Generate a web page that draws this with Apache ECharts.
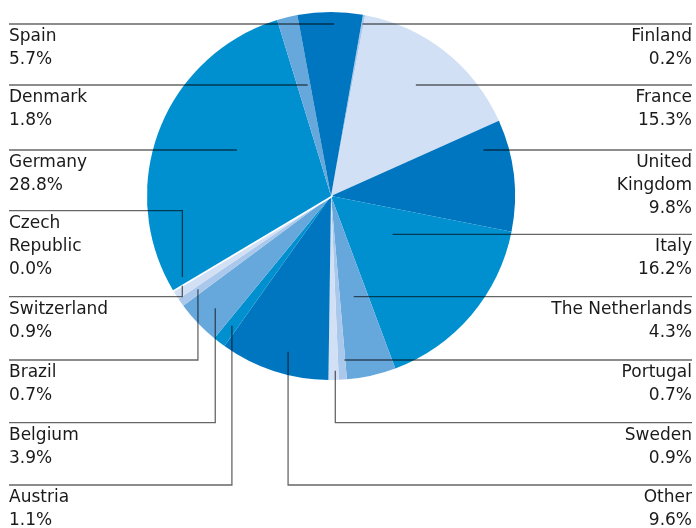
<!DOCTYPE html>
<html><head><meta charset="utf-8">
<script src="https://cdn.jsdelivr.net/npm/echarts@6/dist/echarts.min.js"></script>
<style>html,body{margin:0;padding:0;background:#fff}#c{width:696px;height:528px}</style>
</head><body><div id="c"></div>
<script>
// ---- data ----
const categories = ['Finland','France','United\nKingdom','Italy','The Netherlands','Portugal','Sweden','Other','Austria','Belgium','Brazil','Switzerland','Czech\nRepublic','Germany','Denmark','Spain'];
const shares = [0.2,15.3,9.8,16.2,4.3,0.7,0.9,9.6,1.1,3.9,0.7,0.9,0.0,28.8,1.8,5.7];

// ---- styles ----
const sliceColors = ['#a9c8eb','#d1e0f5','#0076c0','#0090cf','#67a8dc','#a9c8eb','#d1e0f5','#0076c0','#0090cf','#67a8dc','#a9c8eb','#d1e0f5','#ffffff','#0090cf','#67a8dc','#0076c0'];

// ---- layout ----
const CX = 331, CY = 196, R = 184, START = 80;
const side    = ['r','r','r','r','r','r','r','r','l','l','l','l','l','l','l','l'];
const rowY    = [24,85,150,234.3,296.7,360,422.7,485,485,422.7,360,296.7,210.7,150,85,24];
const elbow   = [0,0,0,0,0,0,1,1,1,1,1,1,1,0,0,0];
const angTweak= [0,-0.9,-10.3,-8.5,0,-1,-0.6,-2.7,0,-0.5,0.3,1.3,2.2,5,1.9,1.3];
const radFrac = [0,0,0,0,0,0,0.95,0.878,0.887,0.876,0.883,0.944,0.92,0,0,0];
const LEFT_X = 9, RIGHT_X = 692;

const total = shares.reduce((a,b)=>a+b,0);
const cum = [];
shares.reduce((acc,v,i)=>{cum[i]=acc;return acc+v;},0);

function anchor(i){
  const th = ((90-START) + 360*(cum[i]+shares[i]/2)/total + angTweak[i]) * Math.PI/180;
  const s = Math.sin(th), c = -Math.cos(th);
  if (elbow[i]) {
    const r = radFrac[i]*R;
    return [CX + r*s, CY + r*c];
  }
  const r = (rowY[i]-CY)/c;
  return [CX + r*s, rowY[i]];
}

const base = {
  type:'pie',
  center:[CX,CY],
  radius:[0,R],
  startAngle:START,
  clockwise:true,
  avoidLabelOverlap:false,
  minAngle:0,
  emphasis:{disabled:true},
  silent:true
};

const chart = echarts.init(document.getElementById('c'), null, {renderer:'canvas'});
chart.setOption({
  animation:false,
  series:[
    Object.assign({}, base, {
      z:1,
      data: categories.map((n,i)=>({
        name:n, value:shares[i],
        itemStyle: shares[i]===0 ? {color:'#ffffff', borderColor:'#ffffff', borderWidth:3.5} : {color:sliceColors[i], borderWidth:0}
      })),
      label:{show:false},
      labelLine:{show:false}
    }),
    Object.assign({}, base, {
      z:3,
      data: categories.map((n,i)=>({
        name:n, value:shares[i],
        itemStyle:{color:'rgba(0,0,0,0)', borderWidth:0}
      })),
      label:{
        show:true, position:'outside',
        formatter: p => p.name + '\n' + shares[p.dataIndex].toFixed(1) + '%',
        fontFamily:'DejaVu Sans', fontSize:17, lineHeight:23, color:'#1a1a1a'
      },
      labelLine:{show:true, smooth:false, lineStyle:{color:'rgba(0,0,0,0.6)', width:1.3}},
      labelLayout: function(p){
        const i = p.dataIndex;
        const a = anchor(i);
        const endX = side[i]==='l' ? LEFT_X : RIGHT_X;
        const pts = elbow[i] ? [a,[a[0],rowY[i]],[endX,rowY[i]]] : [a,[(a[0]+endX)/2,rowY[i]],[endX,rowY[i]]];
        return {
          x: endX, y: rowY[i]+1,
          align: side[i]==='l' ? 'left' : 'right',
          verticalAlign:'top',
          labelLinePoints: pts
        };
      }
    })
  ]
});
</script></body></html>
